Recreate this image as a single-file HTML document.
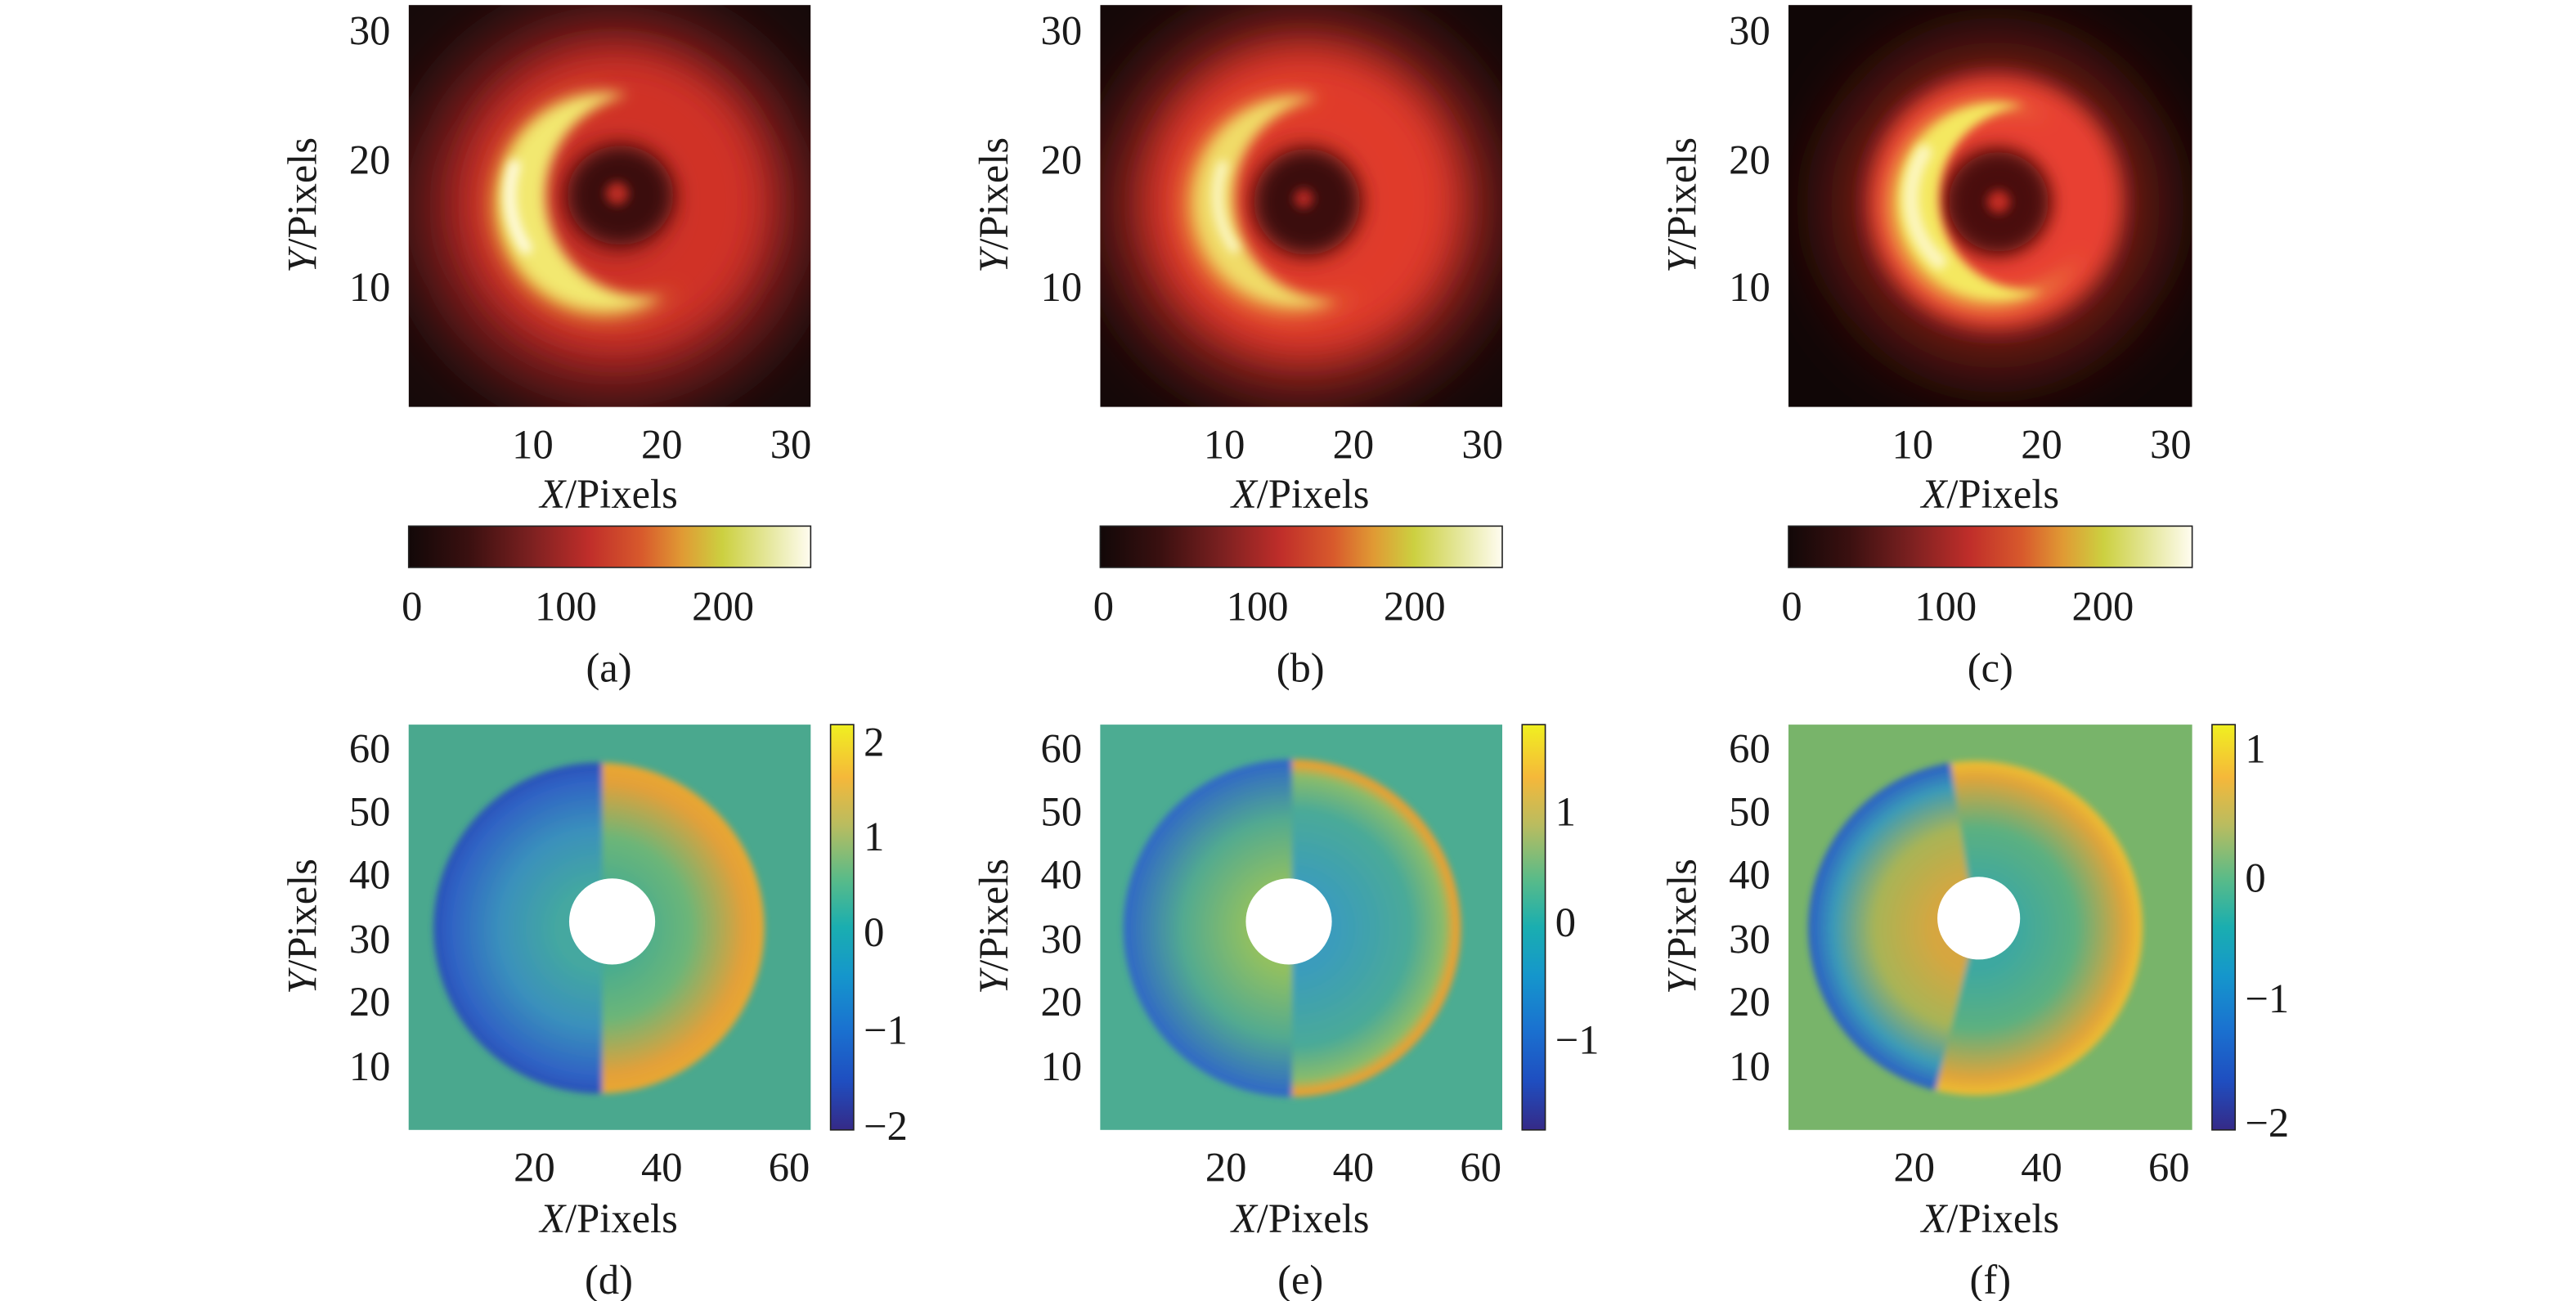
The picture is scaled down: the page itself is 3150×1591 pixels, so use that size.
<!DOCTYPE html>
<html><head><meta charset="utf-8"><style>
html,body{margin:0;padding:0;background:#fff;}
svg{display:block;}
</style></head><body>
<svg width="3150" height="1591" viewBox="0 0 1557 786.4" xmlns="http://www.w3.org/2000/svg">
<defs>
<filter id="b25" filterUnits="userSpaceOnUse" x="0" y="-200" width="1557" height="1200"><feGaussianBlur stdDeviation="22"/></filter>
<filter id="b12" filterUnits="userSpaceOnUse" x="0" y="-200" width="1557" height="1200"><feGaussianBlur stdDeviation="11"/></filter>
<filter id="b8" filterUnits="userSpaceOnUse" x="0" y="-200" width="1557" height="1200"><feGaussianBlur stdDeviation="7"/></filter>
<filter id="b6" filterUnits="userSpaceOnUse" x="0" y="-200" width="1557" height="1200"><feGaussianBlur stdDeviation="6"/></filter>
<filter id="b4" filterUnits="userSpaceOnUse" x="0" y="-200" width="1557" height="1200"><feGaussianBlur stdDeviation="4"/></filter>
<filter id="b3" filterUnits="userSpaceOnUse" x="0" y="-200" width="1557" height="1200"><feGaussianBlur stdDeviation="3"/></filter>
<filter id="b2" filterUnits="userSpaceOnUse" x="0" y="-200" width="1557" height="1200"><feGaussianBlur stdDeviation="2"/></filter>
<mask id="ma" maskUnits="userSpaceOnUse" x="0" y="0" width="1557" height="300"><rect x="0" y="0" width="1557" height="300" fill="#fff"/><circle cx="392" cy="118" r="62" fill="#000"/></mask>
<mask id="ma2" maskUnits="userSpaceOnUse" x="0" y="0" width="1557" height="300"><rect x="0" y="0" width="1557" height="300" fill="#fff"/><circle cx="378" cy="120" r="64" fill="#000"/></mask>
<mask id="mb" maskUnits="userSpaceOnUse" x="0" y="0" width="1557" height="300"><rect x="0" y="0" width="1557" height="300" fill="#fff"/><circle cx="808" cy="120" r="62" fill="#000"/></mask>
<mask id="mb2" maskUnits="userSpaceOnUse" x="0" y="0" width="1557" height="300"><rect x="0" y="0" width="1557" height="300" fill="#fff"/><circle cx="792" cy="122" r="62" fill="#000"/></mask>
<mask id="mc" maskUnits="userSpaceOnUse" x="0" y="0" width="1557" height="300"><rect x="0" y="0" width="1557" height="300" fill="#fff"/><circle cx="1228" cy="120" r="56" fill="#000"/></mask>
<mask id="mc2" maskUnits="userSpaceOnUse" x="0" y="0" width="1557" height="300"><rect x="0" y="0" width="1557" height="300" fill="#fff"/><circle cx="1212" cy="122" r="56" fill="#000"/></mask>
<linearGradient id="hot" x1="0" x2="1" y1="0" y2="0">
<stop offset="0" stop-color="#120808"/><stop offset="0.15" stop-color="#3a1010"/>
<stop offset="0.3" stop-color="#7a2020"/><stop offset="0.45" stop-color="#c02e2a"/>
<stop offset="0.58" stop-color="#d85a2c"/><stop offset="0.68" stop-color="#e09a34"/>
<stop offset="0.78" stop-color="#ccd040"/><stop offset="0.9" stop-color="#e6e8a0"/>
<stop offset="1" stop-color="#fffcf0"/></linearGradient>
<linearGradient id="par" x1="0" x2="0" y1="1" y2="0">
<stop offset="0" stop-color="#352a87"/><stop offset="0.12" stop-color="#1f4ec0"/>
<stop offset="0.25" stop-color="#1a72d0"/><stop offset="0.38" stop-color="#1596cc"/>
<stop offset="0.5" stop-color="#1aaeb0"/><stop offset="0.62" stop-color="#5abb88"/>
<stop offset="0.75" stop-color="#b8bc60"/><stop offset="0.87" stop-color="#f5b83a"/>
<stop offset="1" stop-color="#f0f020"/></linearGradient>
<clipPath id="ca"><rect x="247" y="3" width="243" height="243"/></clipPath>
<clipPath id="cb"><rect x="665" y="3" width="243" height="243"/></clipPath>
<clipPath id="cc"><rect x="1081" y="3" width="244" height="243"/></clipPath>
<radialGradient id="dL" cx="362" cy="561" r="100" gradientUnits="userSpaceOnUse">
<stop offset="0.25" stop-color="#44a8a0"/><stop offset="0.6" stop-color="#3a90bc"/><stop offset="0.9" stop-color="#2f62c4"/><stop offset="1" stop-color="#2a50b8"/></radialGradient>
<radialGradient id="dR" cx="362" cy="561" r="100" gradientUnits="userSpaceOnUse">
<stop offset="0.25" stop-color="#4aac8e"/><stop offset="0.55" stop-color="#6cb678"/><stop offset="0.88" stop-color="#e2a03a"/><stop offset="1" stop-color="#eaa830"/></radialGradient>
<radialGradient id="eL" cx="781" cy="561" r="102" gradientUnits="userSpaceOnUse">
<stop offset="0.25" stop-color="#92c060"/><stop offset="0.65" stop-color="#52aa90"/><stop offset="1" stop-color="#2f66c8"/></radialGradient>
<radialGradient id="eR" cx="781" cy="561" r="102" gradientUnits="userSpaceOnUse">
<stop offset="0.25" stop-color="#3a9cbc"/><stop offset="0.7" stop-color="#4aaa98"/><stop offset="0.9" stop-color="#8abc6a"/><stop offset="0.97" stop-color="#eaa030"/><stop offset="1" stop-color="#e8a030"/></radialGradient>
<radialGradient id="fL" cx="1194" cy="561" r="101" gradientUnits="userSpaceOnUse">
<stop offset="0.25" stop-color="#d6a640"/><stop offset="0.6" stop-color="#a8b456"/><stop offset="0.85" stop-color="#3a9ab8"/><stop offset="1" stop-color="#2a5cc4"/></radialGradient>
<radialGradient id="fR" cx="1194" cy="561" r="101" gradientUnits="userSpaceOnUse">
<stop offset="0.25" stop-color="#3ea8a0"/><stop offset="0.6" stop-color="#5cb080"/><stop offset="0.9" stop-color="#e0a43a"/><stop offset="1" stop-color="#f0c030"/></radialGradient>
<clipPath id="dl"><rect x="200" y="400" width="164" height="300"/></clipPath>
<clipPath id="dr"><rect x="364" y="400" width="200" height="300"/></clipPath>
<clipPath id="el"><rect x="600" y="400" width="181" height="300"/></clipPath>
<clipPath id="er"><rect x="781" y="400" width="200" height="300"/></clipPath>
<clipPath id="fl"><polygon points="1194,561 1170,400 1000,400 1000,700 1160,700"/></clipPath>
<clipPath id="fr"><polygon points="1194,561 1170,400 1400,400 1400,700 1160,700"/></clipPath>
</defs>

<!-- (a) -->
<g clip-path="url(#ca)">
<rect x="247" y="3" width="243" height="243" fill="#160a0a"/>
<ellipse cx="370" cy="125" rx="118" ry="116" fill="#9a2420" filter="url(#b25)"/>
<circle cx="372" cy="122" r="60" fill="none" stroke="#d03028" stroke-width="60" filter="url(#b12)"/>
<ellipse cx="375" cy="118" rx="32" ry="30" fill="#3a0e0e" filter="url(#b6)"/>
<circle cx="373" cy="117" r="7" fill="#b82a24" filter="url(#b3)"/>
<g filter="url(#b8)"><circle cx="366" cy="124" r="68" fill="#e8b840" mask="url(#ma2)"/></g>
<g filter="url(#b4)"><circle cx="368" cy="122" r="66" fill="#f2e870" mask="url(#ma)"/></g>
<path d="M311,100 A58,58 0 0 0 318,150" fill="none" stroke="#fffbe0" stroke-width="7" stroke-linecap="round" filter="url(#b3)"/>
</g>
<!-- (b) -->
<g clip-path="url(#cb)">
<rect x="665" y="3" width="243" height="243" fill="#140808"/>
<ellipse cx="788" cy="124" rx="116" ry="114" fill="#a82620" filter="url(#b25)"/>
<circle cx="788" cy="122" r="60" fill="none" stroke="#e03a2a" stroke-width="62" filter="url(#b12)"/>
<ellipse cx="790" cy="122" rx="32" ry="32" fill="#3a0e0e" filter="url(#b6)"/>
<circle cx="788" cy="120" r="6" fill="#b02822" filter="url(#b3)"/>
<g filter="url(#b8)"><circle cx="782" cy="124" r="66" fill="#eca840" mask="url(#mb2)"/></g>
<g filter="url(#b4)"><circle cx="786" cy="122" r="64" fill="#f0dc68" mask="url(#mb)"/></g>
<path d="M739,100 A55,55 0 0 0 746,150" fill="none" stroke="#fcf8c8" stroke-width="6" stroke-linecap="round" filter="url(#b3)"/>
</g>
<!-- (c) -->
<g clip-path="url(#cc)">
<rect x="1081" y="3" width="244" height="243" fill="#100606"/>
<ellipse cx="1206" cy="124" rx="100" ry="100" fill="#7a1c18" filter="url(#b25)"/>
<circle cx="1206" cy="122" r="54" fill="none" stroke="#e84030" stroke-width="46" filter="url(#b6)"/>
<ellipse cx="1208" cy="122" rx="30" ry="30" fill="#4a1010" filter="url(#b6)"/>
<circle cx="1208" cy="122" r="7" fill="#c02a24" filter="url(#b3)"/>
<g filter="url(#b6)"><circle cx="1204" cy="124" r="62" fill="#eec848" mask="url(#mc2)"/></g>
<g filter="url(#b3)"><circle cx="1208" cy="122" r="60" fill="#f4e860" mask="url(#mc)"/></g>
<path d="M1163,92 A52,52 0 0 0 1172,158" fill="none" stroke="#fcf6c0" stroke-width="9" stroke-linecap="round" filter="url(#b3)"/>
</g>

<rect x="247" y="318" width="243" height="25" fill="url(#hot)" stroke="#222" stroke-width="0.8"/>
<rect x="665" y="318" width="243" height="25" fill="url(#hot)" stroke="#222" stroke-width="0.8"/>
<rect x="1081" y="318" width="244" height="25" fill="url(#hot)" stroke="#222" stroke-width="0.8"/>

<rect x="247" y="438" width="243" height="245" fill="#4aa88e"/>
<g filter="url(#b2)">
<circle cx="362" cy="561" r="100" fill="url(#dL)" clip-path="url(#dl)"/>
<circle cx="362" cy="561" r="100" fill="url(#dR)" clip-path="url(#dr)"/>
</g>
<circle cx="370" cy="557" r="26" fill="#fff"/>

<rect x="665" y="438" width="243" height="245" fill="#4cac92"/>
<g filter="url(#b2)">
<circle cx="781" cy="561" r="102" fill="url(#eL)" clip-path="url(#el)"/>
<circle cx="781" cy="561" r="102" fill="url(#eR)" clip-path="url(#er)"/>
</g>
<circle cx="779" cy="557" r="26" fill="#fff"/>

<rect x="1081" y="438" width="244" height="245" fill="#78b46a"/>
<g filter="url(#b2)">
<circle cx="1194" cy="561" r="101" fill="url(#fL)" clip-path="url(#fl)"/>
<circle cx="1194" cy="561" r="101" fill="url(#fR)" clip-path="url(#fr)"/>
</g>
<circle cx="1196" cy="555" r="25" fill="#fff"/>

<rect x="502" y="438" width="14" height="245" fill="url(#par)" stroke="#222" stroke-width="0.8"/>
<rect x="920" y="438" width="14" height="245" fill="url(#par)" stroke="#222" stroke-width="0.8"/>
<rect x="1337" y="438" width="14" height="245" fill="url(#par)" stroke="#222" stroke-width="0.8"/>

<g font-size="25" font-family="Liberation Serif, serif" fill="#1a1a1a">
<g text-anchor="end">
<text x="236" y="27">30</text><text x="236" y="105">20</text><text x="236" y="182">10</text>
<text x="654" y="27">30</text><text x="654" y="105">20</text><text x="654" y="182">10</text>
<text x="1070" y="27">30</text><text x="1070" y="105">20</text><text x="1070" y="182">10</text>
</g>
<g text-anchor="middle">
<text x="322" y="277">10</text><text x="400" y="277">20</text><text x="478" y="277">30</text>
<text x="740" y="277">10</text><text x="818" y="277">20</text><text x="896" y="277">30</text>
<text x="1156" y="277">10</text><text x="1234" y="277">20</text><text x="1312" y="277">30</text>
<text x="368" y="307"><tspan font-style="italic">X</tspan>/Pixels</text>
<text x="786" y="307"><tspan font-style="italic">X</tspan>/Pixels</text>
<text x="1203" y="307"><tspan font-style="italic">X</tspan>/Pixels</text>
<text x="249" y="375">0</text><text x="342" y="375">100</text><text x="437" y="375">200</text>
<text x="667" y="375">0</text><text x="760" y="375">100</text><text x="855" y="375">200</text>
<text x="1083" y="375">0</text><text x="1176" y="375">100</text><text x="1271" y="375">200</text>
<text x="368" y="412">(a)</text><text x="786" y="412">(b)</text><text x="1203" y="412">(c)</text>
<text transform="translate(191,124) rotate(-90)"><tspan font-style="italic">Y</tspan>/Pixels</text>
<text transform="translate(609,124) rotate(-90)"><tspan font-style="italic">Y</tspan>/Pixels</text>
<text transform="translate(1025,124) rotate(-90)"><tspan font-style="italic">Y</tspan>/Pixels</text>
</g>
<g text-anchor="end">
<text x="236" y="461">60</text><text x="236" y="499">50</text><text x="236" y="537">40</text><text x="236" y="576">30</text><text x="236" y="614">20</text><text x="236" y="653">10</text>
<text x="654" y="461">60</text><text x="654" y="499">50</text><text x="654" y="537">40</text><text x="654" y="576">30</text><text x="654" y="614">20</text><text x="654" y="653">10</text>
<text x="1070" y="461">60</text><text x="1070" y="499">50</text><text x="1070" y="537">40</text><text x="1070" y="576">30</text><text x="1070" y="614">20</text><text x="1070" y="653">10</text>
</g>
<g text-anchor="middle">
<text x="323" y="714">20</text><text x="400" y="714">40</text><text x="477" y="714">60</text>
<text x="741" y="714">20</text><text x="818" y="714">40</text><text x="895" y="714">60</text>
<text x="1157" y="714">20</text><text x="1234" y="714">40</text><text x="1311" y="714">60</text>
<text x="368" y="745"><tspan font-style="italic">X</tspan>/Pixels</text>
<text x="786" y="745"><tspan font-style="italic">X</tspan>/Pixels</text>
<text x="1203" y="745"><tspan font-style="italic">X</tspan>/Pixels</text>
<text x="368" y="782">(d)</text><text x="786" y="782">(e)</text><text x="1203" y="782">(f)</text>
<text transform="translate(191,560) rotate(-90)"><tspan font-style="italic">Y</tspan>/Pixels</text>
<text transform="translate(609,560) rotate(-90)"><tspan font-style="italic">Y</tspan>/Pixels</text>
<text transform="translate(1025,560) rotate(-90)"><tspan font-style="italic">Y</tspan>/Pixels</text>
</g>
<g>
<text x="522" y="457">2</text><text x="522" y="514">1</text><text x="522" y="572">0</text><text x="522" y="631">−1</text><text x="522" y="689">−2</text>
<text x="940" y="499">1</text><text x="940" y="566">0</text><text x="940" y="637">−1</text>
<text x="1357" y="461">1</text><text x="1357" y="539">0</text><text x="1357" y="612">−1</text><text x="1357" y="687">−2</text>
</g>
</g>
</svg>
</body></html>
